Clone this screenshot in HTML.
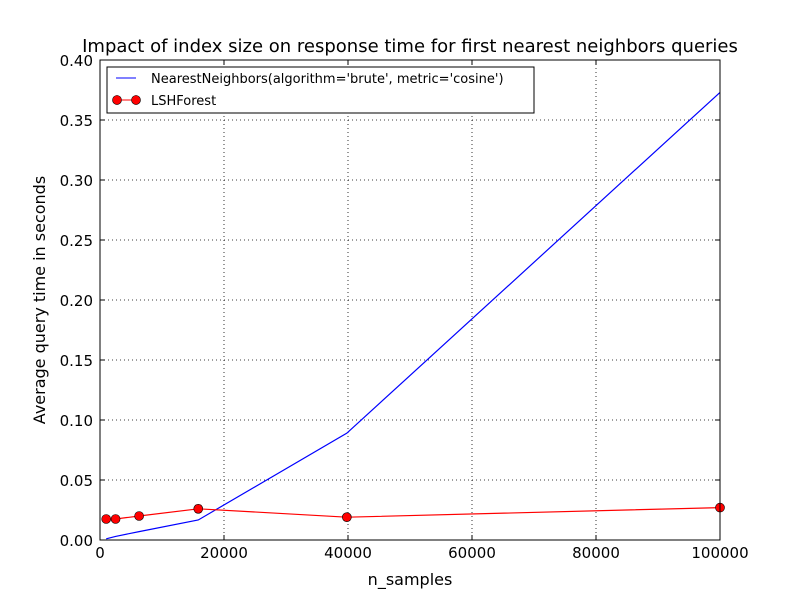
<!DOCTYPE html>
<html><head><meta charset="utf-8"><style>
body{margin:0;background:#fff;}
svg{display:block;font-family:"DejaVu Sans","Liberation Sans",sans-serif;}
</style></head><body>
<svg id="chart" width="800" height="600" viewBox="0 0 800 600">
<rect width="800" height="600" fill="#fff"/>
<text x="410" y="52" font-size="18" text-anchor="middle">Impact of index size on response time for first nearest neighbors queries</text>
<g id="grid"></g>
<g id="ticks"></g>
<g id="series"></g>
<rect x="100" y="60" width="620" height="480" fill="none" stroke="#000" stroke-width="1"/>
<text x="410" y="585" font-size="16" text-anchor="middle">n_samples</text>
<text x="45" y="300" font-size="16" text-anchor="middle" transform="rotate(-90 45 300)">Average query time in seconds</text>
<g>
<rect x="107" y="67" width="427" height="46" fill="#fff" stroke="#000"/>
<line x1="116" y1="78" x2="136" y2="78" stroke="#0000ff"/>
<text x="151" y="83" font-size="13">NearestNeighbors(algorithm='brute', metric='cosine')</text>
<g>
<line x1="117" y1="100" x2="136" y2="100" stroke="#ff0000"/>
<line x1="117" y1="95" x2="117" y2="105" stroke="#ff0000"/>
<line x1="136" y1="95" x2="136" y2="105" stroke="#ff0000"/>
<circle cx="117" cy="100" r="4.5" fill="#ff0000" stroke="#000" stroke-width="0.6"/>
<circle cx="136" cy="100" r="4.5" fill="#ff0000" stroke="#000" stroke-width="0.6"/>
</g>
<text x="151" y="105" font-size="13">LSHForest</text>
</g>
</svg>
<script>
const nSamples = [1000, 2512, 6310, 15849, 39811, 100000];
const bruteTimes = [0.001, 0.003, 0.007, 0.0167, 0.089, 0.373];
const lshTimes = [0.0175, 0.0175, 0.020, 0.026, 0.019, 0.027];
const lshErrors = [0.001, 0.001, 0.001, 0.003, 0.001, 0.001];
const xTicks = [0, 20000, 40000, 60000, 80000, 100000];
const yTicks = [0.00, 0.05, 0.10, 0.15, 0.20, 0.25, 0.30, 0.35, 0.40];

const NS = "http://www.w3.org/2000/svg";
const xs = v => 100 + v / 100000 * 620;
const ys = v => 540 - v / 0.4 * 480;
function mk(tag, attrs, parent) {
  const e = document.createElementNS(NS, tag);
  for (const k in attrs) e.setAttribute(k, attrs[k]);
  parent.appendChild(e);
  return e;
}
const grid = document.getElementById('grid');
const ticks = document.getElementById('ticks');
const series = document.getElementById('series');

xTicks.forEach((t) => {
  const x = xs(t);
  const g = mk('line', {x1: x, y1: 60, x2: x, y2: 540, stroke: '#000', 'stroke-dasharray': '1,3', 'stroke-width': 0.8}, grid);
  
  
  mk('line', {x1: x, y1: 540, x2: x, y2: 535, stroke: '#000'}, ticks);
  mk('line', {x1: x, y1: 60, x2: x, y2: 65, stroke: '#000'}, ticks);
  const tx = mk('text', {x: x, y: 558, 'font-size': 15, 'text-anchor': 'middle'}, ticks);
  tx.textContent = String(t);
  
  
});
yTicks.forEach((t) => {
  const y = ys(t);
  const g = mk('line', {x1: 100, y1: y, x2: 720, y2: y, stroke: '#000', 'stroke-dasharray': '1,3', 'stroke-width': 0.8}, grid);
  
  
  mk('line', {x1: 100, y1: y, x2: 105, y2: y, stroke: '#000'}, ticks);
  mk('line', {x1: 720, y1: y, x2: 715, y2: y, stroke: '#000'}, ticks);
  const tx = mk('text', {x: 93, y: y + 6, 'font-size': 15, 'text-anchor': 'end'}, ticks);
  tx.textContent = t.toFixed(2);
  
  
});

const bl = mk('polyline', {points: nSamples.map((n, i) => xs(n) + ',' + ys(bruteTimes[i])).join(' '), fill: 'none', stroke: '#0000ff', 'stroke-width': 1.2}, series);



const rl = mk('polyline', {points: nSamples.map((n, i) => xs(n) + ',' + ys(lshTimes[i])).join(' '), fill: 'none', stroke: '#ff0000', 'stroke-width': 1.2}, series);



nSamples.forEach((n, i) => {
  const x = xs(n);
  const y1 = ys(lshTimes[i] + lshErrors[i]), y2 = ys(lshTimes[i] - lshErrors[i]);
  mk('line', {x1: x, y1: y1, x2: x, y2: y2, stroke: '#ff0000'}, series);
  mk('line', {x1: x - 3, y1: y1, x2: x + 3, y2: y1, stroke: '#ff0000'}, series);
  mk('line', {x1: x - 3, y1: y2, x2: x + 3, y2: y2, stroke: '#ff0000'}, series);
  const c = mk('circle', {cx: x, cy: ys(lshTimes[i]), r: 4.5, fill: '#ff0000', stroke: '#000', 'stroke-width': 0.6}, series);
  
  
});
</script>
</body></html>
